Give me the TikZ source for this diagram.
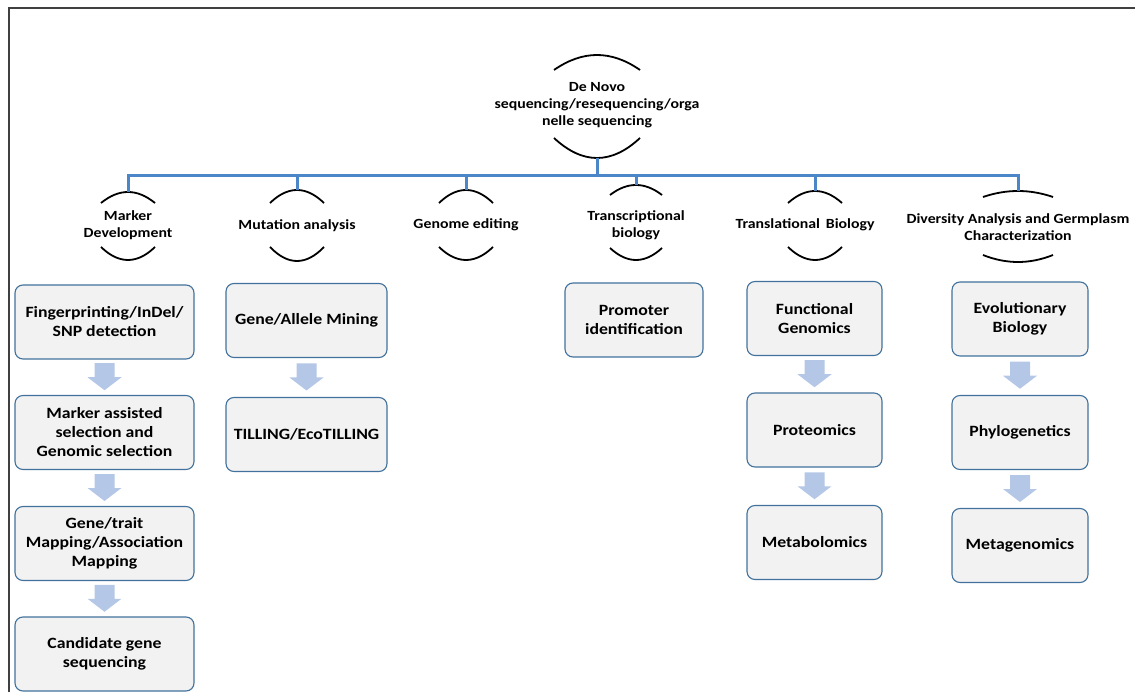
\documentclass[tikz,border=0pt]{standalone}
\usepackage{fontspec}
\setmainfont{Carlito}[FakeStretch=1.13]
\usetikzlibrary{calc}

\definecolor{boxfill}{HTML}{F2F2F2}
\definecolor{boxline}{HTML}{41719C}
\definecolor{arrowfill}{HTML}{B4C7E7}
\definecolor{busblue}{HTML}{4A86C8}

\tikzset{
  topic/.style={align=center, inner sep=0, font=\bfseries\fontsize{14}{16.8}\selectfont},
  item/.style={draw=boxline, fill=boxfill, rounded corners=8pt, line width=1.1pt,
    align=center, inner sep=0, minimum height=74pt, font=\bfseries\fontsize{15.7}{19}\selectfont},
  lens/.style={line width=1.8pt, black},
  busline/.style={line width=3pt, busblue},
  frame/.style={line width=1.6pt, black!75}
}

% block arrow between two stacked boxes
\newcommand{\flowarrow}[2]{%
  \coordinate (m) at ($(#1.south)!0.5!(#2.north)$);
  \fill[arrowfill] ($(m)+(-10,-14)$) -- ($(m)+(10,-14)$) -- ($(m)+(10,0)$) -- ($(m)+(17,0)$)
    -- ($(m)+(0,13)$) -- ($(m)+(-17,0)$) -- ($(m)+(-10,0)$) -- cycle;}

\begin{document}
\begin{tikzpicture}[x=1pt, y=-1pt]
  \useasboundingbox (0,0) rectangle (1135,692);

  % Outer frame (only top and left edges)
  \draw[frame] (9,692) -- (9,8) -- (1135,8);

  % Topics
  \node[topic] (hub) at (597,105) {De Novo\\sequencing/resequencing/orga\\nelle sequencing};
  \node[topic] (marker) at (128,225) {Marker\\Development};
  \node[topic] (mutation) at (297,226) {Mutation analysis};
  \node[topic] (genome) at (466,225) {Genome editing};
  \node[topic] (transcr) at (636,225) {Transcriptional\\biology};
  \node[topic] (transl) at (805,225) {Translational\, Biology};
  \node[topic] (diversity) at (1018,227) {Diversity Analysis and Germplasm\\Characterization};

  % Arcs above and below each topic (x / ends / peak / ends / trough / half width)
  \foreach \n/\x/\a/\b/\c/\d/\h in {hub/597/70/55/138/158/43, marker/128/203/192/247/260/27,
      mutation/297/203/190/247/261/27, genome/466/203/190/247/260/27,
      transcr/636/195/185/248/260/26, transl/815/203/191/247/260/27,
      diversity/1018/197/191/255/262/35} {
    \draw[lens] (\x-\h,\a) .. controls (\x-\h/3,\a+4*\b/3-4*\a/3) and (\x+\h/3,\a+4*\b/3-4*\a/3) .. (\x+\h,\a);
    \draw[lens] (\x-\h,\c) .. controls (\x-\h/3,\c+4*\d/3-4*\c/3) and (\x+\h/3,\c+4*\d/3-4*\c/3) .. (\x+\h,\c);
    \coordinate (\n-top) at (\x,\b);
    \coordinate (\n-bot) at (\x,\d);
  }

  % Connecting bus
  \coordinate (bus) at (0,176);
  \draw[busline] (marker-top) -- (marker-top |- bus) -- (diversity-top |- bus) -- (diversity-top);
  \foreach \n in {hub-bot, mutation-top, genome-top, transcr-top, transl-top}
    \draw[busline] (\n) -- (\n |- bus);

  % Marker development column
  \node[item, minimum width=179pt] (finger) at (104.5,322) {Fingerprinting/InDel/\\SNP detection};
  \node[item, minimum width=179pt] (mas) at (104.5,432.5) {Marker assisted\\selection and\\Genomic selection};
  \node[item, minimum width=179pt] (mapping) at (104.5,543.5) {Gene/trait\\Mapping/Association\\Mapping};
  \node[item, minimum width=179pt] (candidate) at (104.5,654) {Candidate gene\\sequencing};

  % Mutation analysis column
  \node[item, minimum width=161pt] (mining) at (306.5,320.5) {Gene/Allele Mining};
  \node[item, minimum width=161pt] (tilling) at (306.5,434.5) {TILLING/EcoTILLING};

  % Transcriptional biology
  \node[item, minimum width=138pt] (promoter) at (634,320) {Promoter\\identification};

  % Translational biology column
  \node[item, minimum width=135pt] (functional) at (814.5,318.5) {Functional\\Genomics};
  \node[item, minimum width=135pt] (proteomics) at (814.5,430) {Proteomics};
  \node[item, minimum width=135pt] (metabolomics) at (814.5,542.5) {Metabolomics};

  % Diversity column
  \node[item, minimum width=136pt] (evolution) at (1020,319) {Evolutionary\\Biology};
  \node[item, minimum width=136pt] (phylo) at (1020,432.5) {Phylogenetics};
  \node[item, minimum width=136pt] (metagen) at (1020,545.5) {Metagenomics};

  % Block arrows
  \foreach \a/\b in {finger/mas, mas/mapping, mapping/candidate, mining/tilling,
      functional/proteomics, proteomics/metabolomics, evolution/phylo, phylo/metagen}
    \flowarrow{\a}{\b};
\end{tikzpicture}
\end{document}
